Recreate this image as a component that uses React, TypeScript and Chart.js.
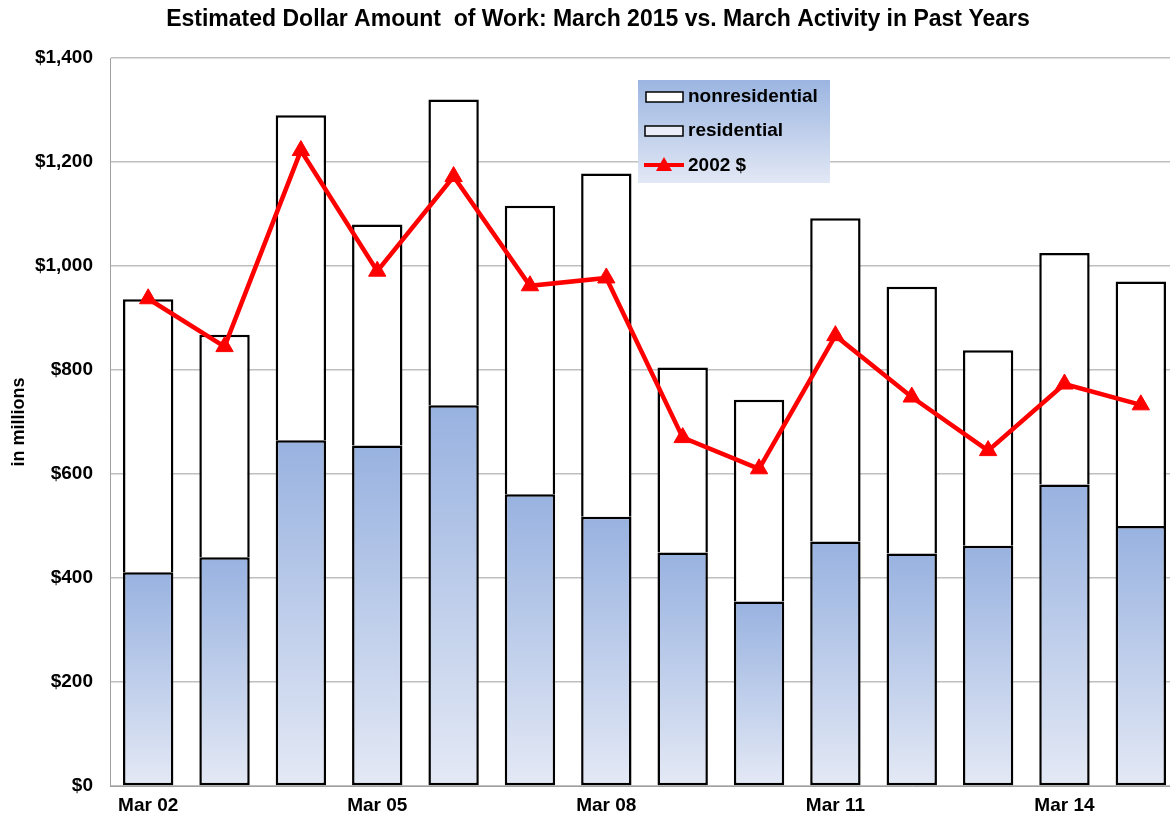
import React, { useEffect, useRef } from "react";
import { Chart, registerables } from "chart.js";

Chart.register(...registerables);

const categories = ["Mar 02", "Mar 03", "Mar 04", "Mar 05", "Mar 06", "Mar 07", "Mar 08", "Mar 09", "Mar 10", "Mar 11", "Mar 12", "Mar 13", "Mar 14", "Mar 15"];
const residential = [411, 440, 665, 655, 732, 561, 518, 449, 355, 470, 447, 462, 580, 500];
const nonresidential = [525, 428, 625, 425, 588, 555, 660, 356, 388, 622, 513, 376, 445, 470];
const dollars2002 = [937, 845, 1222, 990, 1172, 962, 977, 670, 610, 866, 748, 645, 773, 733];
const yTicks = [0, 200, 400, 600, 800, 1000, 1200, 1400];

const FONT = "'Liberation Sans', Arial, sans-serif";

const legendPlugin = {
  id: "customLegend",
  afterDraw(chart: any) {
    const c = chart.ctx;
    const x = 638, y = 80, w = 192, h = 103;
    c.save();
    const g = c.createLinearGradient(0, y, 0, y + h);
    g.addColorStop(0, "#9bb5e1");
    g.addColorStop(1, "#e2e8f5");
    c.fillStyle = g;
    c.fillRect(x, y, w, h);
    c.font = `bold 19px ${FONT}`;
    c.textBaseline = "middle";
    // nonresidential
    c.fillStyle = "#ffffff";
    c.fillRect(646, 92, 37, 10);
    c.strokeStyle = "#000";
    c.lineWidth = 1.5;
    c.strokeRect(646, 92, 37, 10);
    c.fillStyle = "#000";
    c.fillText("nonresidential", 688, 97);
    // residential
    c.fillStyle = "#e8edf8";
    c.fillRect(645, 126, 38, 10);
    c.strokeRect(645, 126, 38, 10);
    c.fillStyle = "#000";
    c.fillText("residential", 688, 131);
    // 2002 $
    c.strokeStyle = "#ff0000";
    c.lineWidth = 4;
    c.beginPath();
    c.moveTo(644, 165);
    c.lineTo(684, 165);
    c.stroke();
    c.fillStyle = "#ff0000";
    c.beginPath();
    c.moveTo(664, 157);
    c.lineTo(672, 171);
    c.lineTo(656, 171);
    c.closePath();
    c.fill();
    c.fillStyle = "#000";
    c.fillText("2002 $", 688, 166);
    c.restore();
  },
};

function resGradient(ctx: any) {
  const chart = ctx.chart;
  if (!chart.chartArea || ctx.type !== "data") return "#bccbeb";
  const yScale = chart.scales.y;
  const top = yScale.getPixelForValue(ctx.raw);
  const bottom = yScale.getPixelForValue(0);
  const g = chart.ctx.createLinearGradient(0, top, 0, bottom);
  g.addColorStop(0, "#98b2e0");
  g.addColorStop(1, "#e4e9f5");
  return g;
}

export default function App() {
  const ref = useRef<HTMLCanvasElement>(null);
  useEffect(() => {
    if (!ref.current) return;
    const chart = new Chart(ref.current, {
      type: "bar",
      data: {
        labels: categories,
        datasets: [
          {
            type: "line",
            label: "2002 $",
            data: dollars2002,
            borderColor: "#ff0000",
            backgroundColor: "#ff0000",
            borderWidth: 4.5,
            pointStyle: "triangle",
            pointRadius: 10,
            pointHoverRadius: 10,
            pointBorderWidth: 1,
            stack: "line",
            order: 0,
            tension: 0,
          } as any,
          {
            label: "residential",
            data: residential,
            backgroundColor: resGradient,
            borderColor: "#000",
            borderWidth: 2.5,
            borderSkipped: false,
            stack: "bars",
            order: 1,
            barPercentage: 0.66,
            categoryPercentage: 1,
          },
          {
            label: "nonresidential",
            data: nonresidential,
            backgroundColor: "#ffffff",
            borderColor: "#000",
            borderWidth: 2.5,
            borderSkipped: "bottom",
            stack: "bars",
            order: 2,
            barPercentage: 0.66,
            categoryPercentage: 1,
          },
        ],
      },
      options: {
        animation: false,
        responsive: false,
        maintainAspectRatio: false,
        layout: { padding: { left: 8, right: 2, top: 4, bottom: 0 } },
        plugins: {
          legend: { display: false },
          tooltip: { enabled: false },
          title: {
            display: true,
            text: "Estimated Dollar Amount  of Work: March 2015 vs. March Activity in Past Years",
            color: "#000",
            font: { family: FONT, size: 23, weight: "bold" },
            padding: { top: 2, bottom: 24.4 },
          },
        },
        scales: {
          x: {
            stacked: true,
            offset: true,
            grid: { display: false, drawTicks: false },
            border: { display: true, color: "#a0a0a0", width: 1 },
            afterFit: (axis: any) => {
              axis.height = 35;
            },
            ticks: {
              autoSkip: false,
              maxRotation: 0,
              color: "#000",
              padding: 8,
              font: { family: FONT, size: 19, weight: "bold" },
              callback: (_v: any, i: number) => (i % 3 === 0 ? categories[i] : ""),
            },
          },
          y: {
            stacked: true,
            min: 0,
            max: 1400,
            afterBuildTicks: (axis: any) => {
              axis.ticks = yTicks.map((v) => ({ value: v }));
            },
            afterFit: (axis: any) => {
              axis.width = 102;
            },
            grid: { color: "#bfbfbf", lineWidth: 1.5, drawTicks: false },
            border: { display: true, color: "#a0a0a0", width: 1 },
            title: {
              display: true,
              text: "in millions",
              color: "#000",
              font: { family: FONT, size: 18, weight: "bold" },
              padding: { top: 0, bottom: 10 },
            },
            ticks: {
              color: "#000",
              padding: 17,
              font: { family: FONT, size: 19, weight: "bold" },
              callback: (v: any) => "$" + Number(v).toLocaleString("en-US"),
            },
          },
        },
      },
      plugins: [legendPlugin],
    });
    return () => chart.destroy();
  }, []);
  return (
    <div style={{ position: "fixed", left: 0, top: 0, width: 1170, height: 821, overflow: "hidden", background: "#fff" }}>
      <canvas ref={ref} width={1190} height={821} style={{ display: "block" }} />
    </div>
  );
}
